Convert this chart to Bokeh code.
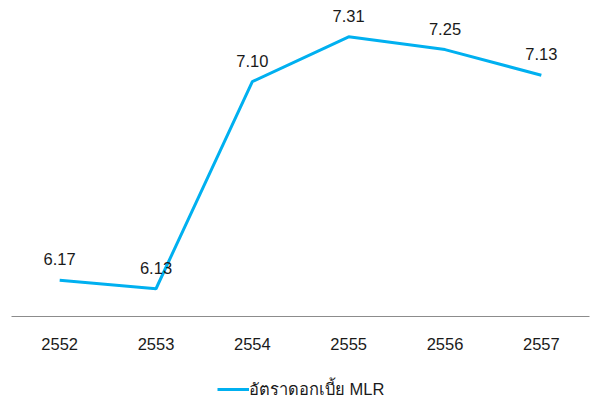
from bokeh.plotting import figure
from bokeh.layouts import column
from bokeh.models import FactorRange, Range1d, Legend, LegendItem, ColumnDataSource
from bokeh.embed import file_html
from bokeh.resources import INLINE
from bokeh.core.properties import value

years = ["2552", "2553", "2554", "2555", "2556", "2557"]
mlr = [6.17, 6.13, 7.10, 7.31, 7.25, 7.13]
labels = ["6.17", "6.13", "7.10", "7.31", "7.25", "7.13"]
series_name = "อัตราดอกเบี้ย MLR"

FONT = "Liberation Sans, sans-serif"
LINE_COLOR = "#00B0F0"

src = ColumnDataSource(dict(x=years, y=mlr, t=labels))

p = figure(width=593, height=370, x_range=FactorRange(*years, range_padding=0),
           y_range=Range1d(6.0, 7.48), output_backend="svg", toolbar_location=None,
           min_border_left=11, min_border_right=4, min_border_top=0, min_border_bottom=54)
p.outline_line_color = None
p.grid.visible = False
p.yaxis.visible = False

r = p.line("x", "y", source=src, line_color=LINE_COLOR, line_width=3)
p.text("x", "y", text="t", source=src, text_align="center", text_baseline="middle",
       y_offset=-21, text_font=value(FONT), text_font_size="16.5px", text_color="#1a1a1a")

ax = p.xaxis[0]
ax.axis_line_color = "#8c8c8c"
ax.axis_line_width = 1
ax.major_tick_line_color = None
ax.minor_tick_line_color = None
ax.major_tick_out = 0
ax.major_tick_in = 0
ax.major_label_standoff = 21
ax.major_label_text_font = FONT
ax.major_label_text_font_size = "16.5px"
ax.major_label_text_color = "#1a1a1a"

# legend strip below the chart (same series, drawn outside this strip's visible y-range)
lg = figure(width=593, height=38, x_range=FactorRange(*years, range_padding=0),
            y_range=Range1d(0, 1), output_backend="svg", toolbar_location=None,
            min_border_left=0, min_border_right=0, min_border_top=0, min_border_bottom=0)
lg.outline_line_color = None
lg.grid.visible = False
lg.axis.visible = False
lr = lg.line("x", "y", source=src, line_color=LINE_COLOR, line_width=3)
legend = Legend(items=[LegendItem(label=series_name, renderers=[lr])],
                location=(206, 6), orientation="horizontal",
                label_text_font=FONT, label_text_font_size="16.5px", label_text_color="#1a1a1a",
                glyph_width=32, label_standoff=0, padding=0, margin=0,
                border_line_color=None, background_fill_alpha=0)
lg.add_layout(legend, "center")

layout = column(p, lg, spacing=0)
open("out.html", "w").write(file_html(layout, INLINE))
